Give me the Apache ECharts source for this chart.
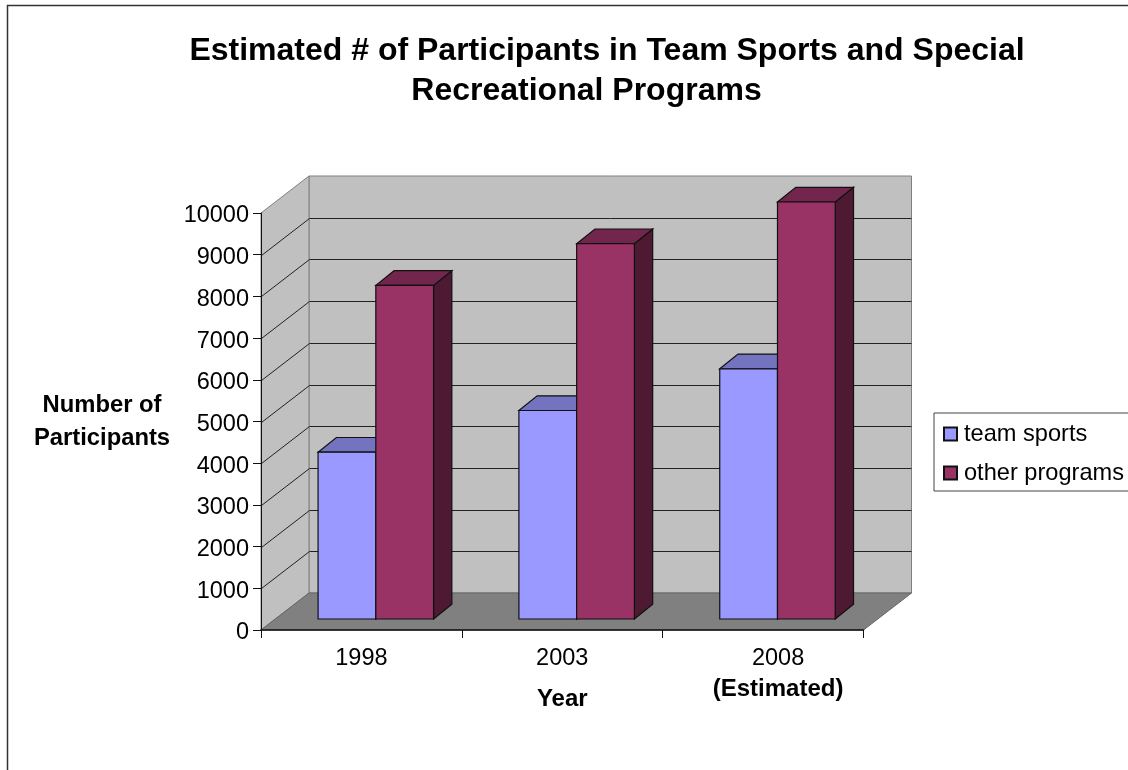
<!DOCTYPE html>
<html>
<head>
<meta charset="utf-8">
<style>html,body{margin:0;padding:0;background:#fff}#c{width:1128px;height:770px}</style>
<script src="https://cdn.jsdelivr.net/npm/echarts@6/dist/echarts.min.js"></script>
</head>
<body>
<div id="c"></div>
<script>
const categories = ['1998', '2003', '2008\n(Estimated)'];
const teamSports = [4000, 5000, 6000];
const otherPrograms = [8000, 9000, 10000];
const gridValues = [1000, 2000, 3000, 4000, 5000, 6000, 7000, 8000, 9000];
const titleLine1 = 'Estimated # of Participants in Team Sports and Special';
const titleLine2 = 'Recreational Programs';

const WALL_DX = 48, WALL_DY = -37;
const PLANE_DX = 14.4, PLANE_DY = -11;
const BAR_DX = 18.3, BAR_DY = -14.7;
const BAR_FRAC = 0.2875;
const FONT = '"Liberation Sans", Arial, sans-serif';

function renderWalls(params, api) {
  const g = params.coordSys;
  const x0 = g.x, x1 = g.x + g.width, yT = g.y, yB = g.y + g.height;
  const wallStyle = { fill: '#C0C0C0', stroke: '#808080', lineWidth: 1 };
  return {
    type: 'group', silent: true,
    children: [
      { type: 'polygon', shape: { points: [[x0 + WALL_DX, yT + WALL_DY], [x1 + WALL_DX, yT + WALL_DY], [x1 + WALL_DX, yB + WALL_DY], [x0 + WALL_DX, yB + WALL_DY]] }, style: wallStyle },
      { type: 'polygon', shape: { points: [[x0, yT], [x0 + WALL_DX, yT + WALL_DY], [x0 + WALL_DX, yB + WALL_DY], [x0, yB]] }, style: wallStyle },
      { type: 'polygon', shape: { points: [[x0, yB], [x0 + WALL_DX, yB + WALL_DY], [x1 + WALL_DX, yB + WALL_DY], [x1, yB]] }, style: { fill: '#808080', stroke: '#666666', lineWidth: 1 } }
    ]
  };
}

function renderGrid(params, api) {
  const g = params.coordSys;
  const y = Math.round(api.coord([0, api.value(1)])[1]) + 0.5;
  const x0 = g.x + 0.5, x1 = g.x + g.width;
  return {
    type: 'polyline', silent: true,
    shape: { points: [[x0, y], [x0 + WALL_DX, y + WALL_DY], [x1 + WALL_DX, y + WALL_DY]] },
    style: { fill: null, stroke: '#222222', lineWidth: 1 }
  };
}

function barRenderer(sign, front, top, side) {
  return function (params, api) {
    const i = api.value(0);
    const band = api.size([1, 0])[0];
    const w = band * BAR_FRAC;
    const c = api.coord([i, 0]);
    const t = api.coord([i, api.value(1)]);
    const xa = c[0] + PLANE_DX + (sign < 0 ? -w : 0);
    const xb = xa + w;
    const yb = c[1] + PLANE_DY;
    const yt = t[1] + PLANE_DY;
    const s = { stroke: '#111111', lineWidth: 1.2 };
    return {
      type: 'group',
      children: [
        { type: 'polygon', shape: { points: [[xb, yb], [xb + BAR_DX, yb + BAR_DY], [xb + BAR_DX, yt + BAR_DY], [xb, yt]] }, style: Object.assign({ fill: side }, s) },
        { type: 'polygon', shape: { points: [[xa, yt], [xa + BAR_DX, yt + BAR_DY], [xb + BAR_DX, yt + BAR_DY], [xb, yt]] }, style: Object.assign({ fill: top }, s) },
        { type: 'rect', shape: { x: xa, y: yt, width: w, height: yb - yt }, style: Object.assign({ fill: front }, s) }
      ]
    };
  };
}

const titleStyle = { fontFamily: FONT, fontSize: 32, fontWeight: 'bold', color: '#000' };
const chart = echarts.init(document.getElementById('c'), null, { renderer: 'canvas' });
chart.setOption({
  animation: false,
  backgroundColor: '#ffffff',
  textStyle: { fontFamily: FONT, color: '#000' },
  title: [
    { text: titleLine1, left: 607, top: 35, padding: 0, textAlign: 'center', textStyle: titleStyle },
    { text: titleLine2, left: 586.5, top: 75, padding: 0, textAlign: 'center', textStyle: titleStyle }
  ],
  graphic: [{
    type: 'polyline', silent: true, z: 0,
    shape: { points: [[7.5, 770], [7.5, 5.5], [1128, 5.5]] },
    style: { fill: null, stroke: '#333333', lineWidth: 1.5 }
  }],
  legend: {
    data: ['team sports', 'other programs'],
    orient: 'vertical',
    left: 934, top: 413,
    padding: [9, 10, 6, 9],
    borderColor: '#444444', borderWidth: 1,
    itemWidth: 13, itemHeight: 13, itemGap: 15,
    icon: 'rect',
    selectedMode: false,
    textStyle: { fontSize: 23.6, color: '#000', fontFamily: FONT, padding: [0, 0, 0, 2] }
  },
  grid: { left: 261, top: 213, width: 602.5, height: 417, containLabel: false },
  xAxis: {
    type: 'category', data: categories, z: 10,
    name: 'Year', nameLocation: 'middle', nameGap: 57, nameMoveOverlap: false,
    nameTextStyle: { fontSize: 24, fontWeight: 'bold', color: '#000' },
    axisLine: { show: true, lineStyle: { color: '#111', width: 1.5 } },
    axisTick: { show: true, length: 8, alignWithLabel: false, lineStyle: { color: '#111' } },
    axisLabel: {
      interval: 0, margin: 15, fontSize: 23.5, color: '#000',
      formatter: v => {
        const p = v.split('\n');
        return p.length > 1 ? '{c|' + p[0] + '}\n{b|' + p[1] + '}' : '{a|' + v + '}';
      },
      rich: {
        a: { fontSize: 23.5, color: '#000', lineHeight: 28 },
        c: { fontSize: 23.5, color: '#000', lineHeight: 28, padding: [0, 0, 0, 30] },
        b: { fontSize: 24, fontWeight: 'bold', color: '#000', lineHeight: 32, padding: [0, 0, 0, 30] }
      }
    }
  },
  yAxis: {
    type: 'value', min: 0, max: 10000, interval: 1000, z: 10,
    name: 'Number of\nParticipants', nameLocation: 'middle', nameRotate: 0, nameGap: 159,
    nameTextStyle: { fontSize: 23.8, fontWeight: 'bold', color: '#000', lineHeight: 33, align: 'center' },
    axisLine: { show: true, lineStyle: { color: '#111' } },
    axisTick: { show: true, length: 8, lineStyle: { color: '#111' } },
    axisLabel: {
      margin: 12, fontSize: 23.5, color: '#000',
      formatter: v => '{v|' + v + '}',
      rich: { v: { fontSize: 23.5, color: '#000', padding: [6, 0, 0, 0] } }
    },
    splitLine: { show: false }
  },
  series: [
    { name: 'walls', type: 'custom', z: 1, coordinateSystem: 'cartesian2d', clip: false, silent: true,
      data: [[0, 0]], encode: { x: 0, y: 1 }, renderItem: renderWalls },
    { name: 'gridlines', type: 'custom', z: 2, coordinateSystem: 'cartesian2d', clip: false, silent: true,
      data: gridValues.map(v => [0, v]), encode: { x: 0, y: 1 }, renderItem: renderGrid },
    { name: 'team sports', type: 'custom', z: 3, coordinateSystem: 'cartesian2d', clip: false,
      itemStyle: { color: '#9999FF', borderColor: '#111', borderWidth: 1 },
      data: teamSports.map((v, i) => [i, v]), encode: { x: 0, y: 1 },
      renderItem: barRenderer(-1, '#9999FF', '#7373BF', '#4D4D80') },
    { name: 'other programs', type: 'custom', z: 4, coordinateSystem: 'cartesian2d', clip: false,
      itemStyle: { color: '#993366', borderColor: '#111', borderWidth: 1 },
      data: otherPrograms.map((v, i) => [i, v]), encode: { x: 0, y: 1 },
      renderItem: barRenderer(1, '#993366', '#73264D', '#4D1933') }
  ]
});
</script>
</body>
</html>
